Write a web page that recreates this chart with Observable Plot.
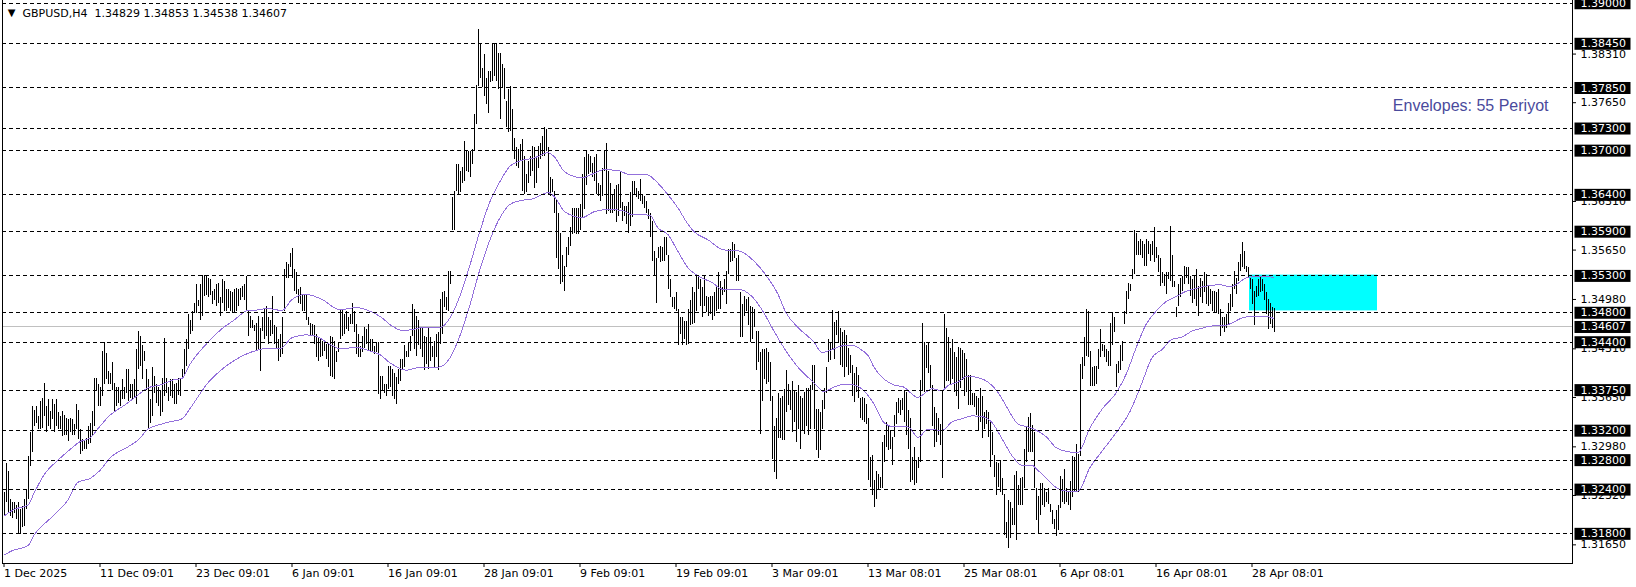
<!DOCTYPE html>
<html>
<head>
<meta charset="utf-8">
<script src="https://cdn.jsdelivr.net/npm/d3@7"></script>
<script src="https://cdn.jsdelivr.net/npm/@observablehq/plot@0.6"></script>
<style>
  html, body { margin: 0; padding: 0; background: #ffffff; }
  svg { display: block; }
</style>
</head>
<body>
<script>
// ---- Data (GBPUSD, H4) ----
const symbol = "GBPUSD,H4";
const lastOHLC = [1.34829, 1.34853, 1.34538, 1.34607];
const bidPrice = 1.34607;

// bar highs, one per H4 bar (bar index 0 = 1 Dec 2025)
const highs = [
1.3236,1.3276,1.3265,1.3226,1.3222,1.3222,1.3219,1.3222,1.3213,1.3217,
1.3226,1.3240,1.3285,1.3317,1.3353,1.3348,1.3353,1.3339,1.3359,1.3364,
1.3384,1.3353,1.3362,1.3346,1.3362,1.3355,1.3362,1.3344,1.3339,1.3346,
1.3341,1.3337,1.3335,1.3337,1.3335,1.3328,1.3355,1.3348,1.3321,1.3308,
1.3305,1.3310,1.3326,1.3330,1.3346,1.3391,1.3391,1.3382,1.3378,1.3427,
1.3439,1.3425,1.3400,1.3398,1.3412,1.3384,1.3378,1.3378,1.3375,1.3389,
1.3378,1.3403,1.3403,1.3382,1.3382,1.3389,1.3430,1.3454,1.3448,1.3436,
1.3427,1.3403,1.3389,1.3362,1.3405,1.3394,1.3382,1.3378,1.3375,1.3391,
1.3445,1.3391,1.3378,1.3389,1.3389,1.3382,1.3384,1.3391,1.3391,1.3403,
1.3430,1.3443,1.3477,1.3470,1.3482,1.3493,1.3518,1.3497,1.3518,1.3531,
1.3531,1.3529,1.3527,1.3525,1.3509,1.3511,1.3518,1.3520,1.3500,1.3525,
1.3522,1.3511,1.3511,1.3509,1.3507,1.3511,1.3513,1.3511,1.3513,1.3516,
1.3518,1.3529,1.3482,1.3475,1.3470,1.3463,1.3466,1.3475,1.3459,1.3473,
1.3484,1.3489,1.3473,1.3469,1.3502,1.3462,1.3460,1.3444,1.3450,1.3473,
1.3539,1.3548,1.3545,1.3561,1.3567,1.3539,1.3534,1.3512,1.3514,1.3505,
1.3505,1.3505,1.3473,1.3466,1.3464,1.3462,1.3450,1.3446,1.3444,1.3441,
1.3441,1.3437,1.3437,1.3448,1.3446,1.3441,1.3428,1.3439,1.3484,1.3484,
1.3478,1.3482,1.3473,1.3478,1.3493,1.3482,1.3464,1.3450,1.3434,1.3448,
1.3460,1.3457,1.3464,1.3444,1.3444,1.3434,1.3439,1.3439,1.3394,1.3394,
1.3383,1.3383,1.3407,1.3407,1.3403,1.3398,1.3392,1.3403,1.3417,1.3417,
1.3435,1.3428,1.3439,1.3448,1.3491,1.3484,1.3475,1.3469,1.3460,1.3460,
1.3448,1.3446,1.3460,1.3446,1.3434,1.3441,1.3450,1.3453,1.3498,1.3507,
1.3509,1.3501,1.3536,1.3536,1.3636,1.3645,1.3681,1.3681,1.3672,1.3677,
1.3713,1.3699,1.3699,1.3699,1.3701,1.3749,1.3789,1.3864,1.3846,1.3812,
1.3830,1.3798,1.3807,1.3807,1.3844,1.3846,1.3846,1.3832,1.3832,1.3817,
1.3812,1.3767,1.3783,1.3787,1.3756,1.3717,1.3704,1.3701,1.3708,1.3715,
1.3692,1.3667,1.3685,1.3692,1.3706,1.3704,1.3692,1.3706,1.3710,1.3719,
1.3731,1.3728,1.3704,1.3663,1.3661,1.3645,1.3634,1.3615,1.3588,1.3557,
1.3543,1.3568,1.3582,1.3595,1.3622,1.3622,1.3622,1.3622,1.3627,1.3667,
1.3690,1.3699,1.3695,1.3692,1.3683,1.3690,1.3695,1.3656,1.3652,1.3676,
1.3699,1.3710,1.3672,1.3656,1.3640,1.3647,1.3652,1.3654,1.3670,1.3629,
1.3624,1.3624,1.3629,1.3643,1.3658,1.3658,1.3649,1.3645,1.3661,1.3640,
1.3638,1.3631,1.3620,1.3615,1.3604,1.3563,1.3554,1.3568,1.3570,1.3568,
1.3582,1.3582,1.3557,1.3525,1.3500,1.3500,1.3507,1.3484,1.3473,1.3473,
1.3468,1.3468,1.3484,1.3496,1.3514,1.3507,1.3532,1.3530,1.3525,1.3514,
1.3530,1.3502,1.3500,1.3502,1.3502,1.3507,1.3516,1.3534,1.3523,1.3514,
1.3525,1.3536,1.3566,1.3566,1.3575,1.3573,1.3554,1.3557,1.3507,1.3491,
1.3502,1.3498,1.3500,1.3489,1.3487,1.3484,1.3455,1.3455,1.3426,1.3430,
1.3430,1.3432,1.3426,1.3412,1.3367,1.3326,1.3337,1.3371,1.3364,1.3367,
1.3376,1.3401,1.3383,1.3374,1.3386,1.3374,1.3372,1.3381,1.3367,1.3363,
1.3372,1.3377,1.3377,1.3381,1.3408,1.3408,1.3349,1.3349,1.3345,1.3361,
1.3377,1.3406,1.3444,1.3438,1.3483,1.3467,1.3469,1.3481,1.3458,1.3453,
1.3456,1.3449,1.3431,1.3422,1.3408,1.3397,1.3406,1.3395,1.3363,1.3365,
1.3363,1.3356,1.3336,1.3284,1.3286,1.3252,1.3264,1.3261,1.3257,1.3304,
1.3313,1.3331,1.3327,1.3320,1.3311,1.3340,1.3358,1.3363,1.3361,1.3363,
1.3374,1.3372,1.3347,1.3336,1.3284,1.3297,1.3279,1.3284,1.3388,1.3465,
1.3440,1.3435,1.3438,1.3408,1.3381,1.3352,1.3343,1.3336,1.3329,1.3374,
1.3478,1.3458,1.3447,1.3431,1.3444,1.3426,1.3419,1.3433,1.3431,1.3429,
1.3424,1.3417,1.3395,1.3395,1.3370,1.3370,1.3367,1.3363,1.3377,1.3367,
1.3345,1.3347,1.3345,1.3331,1.3318,1.3286,1.3277,1.3275,1.3279,1.3255,
1.3234,1.3196,1.3225,1.3223,1.3214,1.3259,1.3264,1.3245,1.3255,1.3257,
1.3295,1.3325,1.3338,1.3343,1.3327,1.3318,1.3241,1.3230,1.3248,1.3248,
1.3241,1.3236,1.3242,1.3220,1.3211,1.3200,1.3211,1.3218,1.3258,1.3254,
1.3267,1.3242,1.3236,1.3251,1.3285,1.3283,1.3301,1.3288,1.3410,1.3419,
1.3446,1.3484,1.3482,1.3428,1.3405,1.3407,1.3407,1.3430,1.3457,1.3437,
1.3435,1.3430,1.3428,1.3466,1.3480,1.3473,1.3410,1.3414,1.3435,1.3441,
1.3482,1.3509,1.3520,1.3518,1.3539,1.3591,1.3588,1.3577,1.3579,1.3577,
1.3572,1.3579,1.3577,1.3572,1.3577,1.3595,1.3568,1.3557,1.3554,1.3534,
1.3532,1.3534,1.3534,1.3597,1.3557,1.3523,1.3487,1.3518,1.3527,1.3529,
1.3543,1.3541,1.3541,1.3529,1.3525,1.3529,1.3539,1.3516,1.3527,1.3523,
1.3534,1.3532,1.3516,1.3511,1.3509,1.3509,1.3507,1.3511,1.3484,1.3473,
1.3473,1.3477,1.3493,1.3505,1.3518,1.3536,1.3527,1.3548,1.3559,1.3575,
1.3563,1.3543,1.3541,1.3527,1.3525,1.3509,1.3516,1.3525,1.3529,1.3525,
1.3518,1.3507,1.3498,1.3493,1.3487,1.34853
];

// bar lows
const lows = [
1.3204,1.3222,1.3208,1.3204,1.3201,1.3208,1.3199,1.3181,1.3179,1.3188,
1.3190,1.3213,1.3226,1.3271,1.3290,1.3326,1.3330,1.3321,1.3321,1.3323,
1.3339,1.3317,1.3326,1.3321,1.3335,1.3317,1.3326,1.3321,1.3321,1.3312,
1.3314,1.3314,1.3305,1.3317,1.3314,1.3314,1.3321,1.3308,1.3287,1.3292,
1.3294,1.3294,1.3301,1.3303,1.3312,1.3326,1.3375,1.3353,1.3353,1.3366,
1.3382,1.3389,1.3382,1.3382,1.3375,1.3346,1.3353,1.3357,1.3353,1.3362,
1.3362,1.3371,1.3359,1.3364,1.3362,1.3364,1.3355,1.3403,1.3407,1.3389,
1.3414,1.3375,1.3321,1.3330,1.3339,1.3371,1.3357,1.3353,1.3339,1.3344,
1.3366,1.3371,1.3359,1.3366,1.3364,1.3355,1.3355,1.3368,1.3366,1.3389,
1.3394,1.3407,1.3430,1.3450,1.3454,1.3479,1.3479,1.3488,1.3470,1.3475,
1.3502,1.3504,1.3500,1.3504,1.3491,1.3497,1.3488,1.3493,1.3475,1.3493,
1.3482,1.3482,1.3486,1.3482,1.3479,1.3479,1.3482,1.3488,1.3497,1.3500,
1.3497,1.3482,1.3448,1.3459,1.3459,1.3454,1.3427,1.3430,1.3400,1.3455,
1.3444,1.3448,1.3437,1.3448,1.3450,1.3437,1.3430,1.3414,1.3419,1.3423,
1.3482,1.3527,1.3527,1.3541,1.3527,1.3509,1.3505,1.3493,1.3491,1.3482,
1.3482,1.3469,1.3462,1.3448,1.3448,1.3437,1.3419,1.3414,1.3419,1.3421,
1.3428,1.3417,1.3405,1.3394,1.3392,1.3389,1.3412,1.3426,1.3444,1.3448,
1.3450,1.3457,1.3455,1.3464,1.3464,1.3453,1.3423,1.3419,1.3419,1.3426,
1.3432,1.3437,1.3428,1.3426,1.3426,1.3423,1.3426,1.3369,1.3362,1.3374,
1.3371,1.3367,1.3376,1.3378,1.3367,1.3362,1.3355,1.3383,1.3387,1.3401,
1.3405,1.3419,1.3419,1.3428,1.3448,1.3430,1.3421,1.3435,1.3430,1.3419,
1.3401,1.3410,1.3403,1.3414,1.3419,1.3405,1.3419,1.3401,1.3437,1.3450,
1.3487,1.3483,1.3482,1.3518,1.3591,1.3591,1.3645,1.3641,1.3643,1.3656,
1.3658,1.3672,1.3670,1.3663,1.3681,1.3699,1.3735,1.3787,1.3798,1.3785,
1.3774,1.3762,1.3751,1.3792,1.3794,1.3801,1.3794,1.3783,1.3742,1.3785,
1.3769,1.3731,1.3724,1.3726,1.3699,1.3688,1.3679,1.3676,1.3685,1.3645,
1.3640,1.3643,1.3656,1.3665,1.3672,1.3649,1.3656,1.3676,1.3688,1.3692,
1.3692,1.3699,1.3640,1.3638,1.3643,1.3615,1.3554,1.3539,1.3518,1.3521,
1.3509,1.3541,1.3557,1.3570,1.3586,1.3588,1.3586,1.3586,1.3591,1.3609,
1.3620,1.3652,1.3667,1.3670,1.3663,1.3658,1.3640,1.3638,1.3631,1.3638,
1.3672,1.3613,1.3618,1.3615,1.3615,1.3618,1.3602,1.3611,1.3622,1.3604,
1.3611,1.3600,1.3588,1.3597,1.3609,1.3640,1.3636,1.3634,1.3631,1.3627,
1.3622,1.3615,1.3606,1.3582,1.3550,1.3530,1.3493,1.3554,1.3548,1.3550,
1.3550,1.3557,1.3511,1.3500,1.3487,1.3484,1.3482,1.3435,1.3450,1.3435,
1.3444,1.3435,1.3437,1.3462,1.3464,1.3466,1.3482,1.3511,1.3489,1.3473,
1.3489,1.3480,1.3475,1.3478,1.3469,1.3475,1.3482,1.3484,1.3484,1.3503,
1.3507,1.3491,1.3532,1.3548,1.3550,1.3554,1.3523,1.3523,1.3446,1.3446,
1.3475,1.3482,1.3462,1.3439,1.3444,1.3460,1.3401,1.3412,1.3315,1.3360,
1.3389,1.3383,1.3385,1.3360,1.3281,1.3263,1.3254,1.3310,1.3310,1.3306,
1.3306,1.3345,1.3354,1.3347,1.3318,1.3331,1.3304,1.3322,1.3295,1.3320,
1.3315,1.3325,1.3313,1.3322,1.3374,1.3322,1.3293,1.3282,1.3293,1.3322,
1.3349,1.3370,1.3413,1.3415,1.3429,1.3417,1.3449,1.3440,1.3408,1.3406,
1.3392,1.3406,1.3395,1.3397,1.3367,1.3358,1.3372,1.3363,1.3336,1.3334,
1.3331,1.3329,1.3252,1.3243,1.3232,1.3216,1.3227,1.3239,1.3241,1.3241,
1.3277,1.3297,1.3293,1.3295,1.3273,1.3311,1.3329,1.3343,1.3340,1.3347,
1.3331,1.3313,1.3295,1.3250,1.3252,1.3245,1.3248,1.3268,1.3277,1.3374,
1.3372,1.3404,1.3397,1.3377,1.3325,1.3297,1.3304,1.3313,1.3300,1.3255,
1.3377,1.3386,1.3386,1.3383,1.3390,1.3372,1.3367,1.3349,1.3377,1.3388,
1.3367,1.3372,1.3354,1.3354,1.3354,1.3352,1.3340,1.3320,1.3331,1.3309,
1.3322,1.3329,1.3311,1.3270,1.3286,1.3257,1.3232,1.3243,1.3236,1.3232,
1.3178,1.3173,1.3160,1.3173,1.3191,1.3191,1.3171,1.3218,1.3218,1.3218,
1.3241,1.3277,1.3291,1.3291,1.3291,1.3241,1.3198,1.3180,1.3205,1.3218,
1.3216,1.3222,1.3220,1.3209,1.3193,1.3186,1.3177,1.3184,1.3215,1.3222,
1.3220,1.3222,1.3218,1.3211,1.3229,1.3236,1.3238,1.3236,1.3285,1.3389,
1.3407,1.3421,1.3419,1.3380,1.3380,1.3380,1.3383,1.3403,1.3419,1.3428,
1.3419,1.3412,1.3407,1.3407,1.3435,1.3453,1.3378,1.3398,1.3401,1.3414,
1.3464,1.3477,1.3498,1.3509,1.3525,1.3532,1.3557,1.3557,1.3557,1.3554,
1.3543,1.3543,1.3559,1.3550,1.3557,1.3548,1.3554,1.3534,1.3516,1.3520,
1.3516,1.3505,1.3525,1.3523,1.3514,1.3514,1.3473,1.3489,1.3500,1.3509,
1.3518,1.3527,1.3518,1.3502,1.3493,1.3498,1.3489,1.3475,1.3500,1.3493,
1.3507,1.3491,1.3489,1.3491,1.3482,1.3480,1.3480,1.3477,1.3448,1.3459,
1.3453,1.3459,1.3464,1.3482,1.3487,1.3511,1.3505,1.3523,1.3536,1.3541,
1.3539,1.3534,1.3527,1.3511,1.3491,1.3462,1.3500,1.3502,1.3507,1.3509,
1.3496,1.3477,1.3457,1.3464,1.3459,1.34538
];

// Envelopes (55) upper / lower band, [bar index, price]
const envUpper = [
[0,1.3204],[5,1.3213],[12,1.3219],[15,1.3235],[20,1.3260],[27,1.3280],[32,1.3292],[38,1.3305],
[43,1.3310],[48,1.3326],[53,1.3341],[60,1.3354],[65,1.3364],[72,1.3378],[78,1.3382],[85,1.3389],
[89,1.3391],[93,1.3410],[102,1.3440],[108,1.3456],[115,1.3470],[122,1.3483],[128,1.3484],[131,1.3486],
[136,1.3484],[139,1.3483],[144,1.3498],[151,1.3505],[159,1.3498],[168,1.3484],[176,1.3487],[183,1.3482],
[188,1.3475],[194,1.3462],[199,1.3456],[204,1.3457],[209,1.3460],[218,1.3460],[223,1.3473],[228,1.3503],
[233,1.3545],[238,1.3591],[243,1.3631],[248,1.3658],[253,1.3679],[258,1.3686],[265,1.3690],[272,1.3697],
[275,1.3692],[280,1.3672],[285,1.3665],[289,1.3663],[294,1.3668],[300,1.3674],[307,1.3673],[312,1.3668],
[317,1.3667],[322,1.3667],[325,1.3661],[332,1.3640],[337,1.3622],[342,1.3600],[345,1.3590],[352,1.3579],
[359,1.3566],[364,1.3564],[367,1.3564],[375,1.3550],[382,1.3527],[387,1.3505],[391,1.3480],[397,1.3460],
[405,1.3440],[409,1.3426],[414,1.3430],[419,1.3435],[424,1.3436],[429,1.3429],[432,1.3422],[435,1.3406],
[440,1.3390],[445,1.3382],[450,1.3379],[453,1.3372],[457,1.3365],[460,1.3370],[464,1.3377],[469,1.3374],
[472,1.3381],[477,1.3386],[482,1.3394],[487,1.3392],[492,1.3386],[497,1.3372],[502,1.3349],[507,1.3329],
[512,1.3325],[515,1.3322],[521,1.3312],[526,1.3297],[531,1.3292],[537,1.3290],[543,1.3324],[549,1.3349],
[556,1.3371],[561,1.3396],[566,1.3432],[571,1.3464],[576,1.3482],[581,1.3495],[586,1.3502],[591,1.3509],
[596,1.3513],[601,1.3516],[608,1.3518],[613,1.3515],[616,1.3518],[621,1.3527],[626,1.3529],[631,1.3529],
[635,1.3528]
];
const envLower = [
[0,1.3151],[4,1.3157],[12,1.3164],[15,1.3178],[24,1.3203],[32,1.3226],[37,1.3250],[43,1.3255],
[48,1.3266],[53,1.3283],[62,1.3298],[67,1.3307],[72,1.3322],[79,1.3329],[83,1.3332],[89,1.3336],
[93,1.3350],[102,1.3385],[108,1.3401],[115,1.3415],[122,1.3425],[128,1.3430],[131,1.3432],[138,1.3431],
[144,1.3446],[151,1.3450],[156,1.3448],[163,1.3437],[168,1.3431],[176,1.3433],[183,1.3428],[188,1.3423],
[193,1.3412],[201,1.3402],[206,1.3405],[211,1.3406],[217,1.3406],[223,1.3419],[228,1.3449],[233,1.3491],
[238,1.3539],[243,1.3579],[248,1.3609],[253,1.3627],[258,1.3632],[265,1.3635],[272,1.3643],[275,1.3638],
[280,1.3618],[285,1.3611],[289,1.3609],[295,1.3617],[302,1.3620],[309,1.3619],[314,1.3613],[319,1.3613],
[323,1.3612],[327,1.3595],[332,1.3586],[337,1.3563],[342,1.3541],[347,1.3530],[354,1.3521],[359,1.3512],
[364,1.3511],[367,1.3512],[374,1.3502],[379,1.3484],[385,1.3455],[391,1.3428],[397,1.3406],[405,1.3385],
[410,1.3373],[415,1.3379],[420,1.3383],[425,1.3382],[430,1.3374],[435,1.3356],[440,1.3331],[445,1.3325],
[452,1.3325],[457,1.3311],[462,1.3322],[469,1.3320],[474,1.3332],[479,1.3336],[484,1.3340],[489,1.3339],
[494,1.3331],[499,1.3309],[504,1.3286],[509,1.3273],[514,1.3273],[517,1.3266],[521,1.3256],[526,1.3243],
[531,1.3238],[537,1.3238],[543,1.3270],[549,1.3292],[556,1.3317],[563,1.3346],[569,1.3385],[574,1.3419],
[579,1.3430],[584,1.3444],[589,1.3447],[594,1.3455],[599,1.3459],[604,1.3462],[609,1.3462],[614,1.3466],
[619,1.3473],[624,1.3475],[629,1.3475],[633,1.3474],[635,1.3472]
];

// horizontal level lines (dashed) and axis ticks
const levels = [1.3900,1.3845,1.3785,1.3730,1.3700,1.3640,1.3590,1.3530,1.3480,1.3440,1.3375,1.3320,1.3280,1.3240,1.3180];
const priceTicks = [1.3831,1.3765,1.3631,1.3565,1.3498,1.3431,1.3365,1.3298,1.3232,1.3165];
const timeTickBars = [0,48,96,144,192,240,288,336,384,432,480,528,576,624];
const timeLabels = ["1 Dec 2025","11 Dec 09:01","23 Dec 09:01","6 Jan 09:01","16 Jan 09:01","28 Jan 09:01","9 Feb 09:01","19 Feb 09:01","3 Mar 09:01","13 Mar 08:01","25 Mar 08:01","6 Apr 08:01","16 Apr 08:01","28 Apr 08:01"];

// cyan rectangle zone (bar index span, price span)
const zones = [{from: 622.75, to: 686.75, top: 1.3531, bottom: 1.34825}];
const indicatorLabel = "Envelopes: 55 Periyot";

// ---- build ----
const bars = highs.map((h, i) => ({i, high: h, low: lows[i]}));
const fmt5 = d3.format(".5f");
const header = symbol + "\u00a0 " + lastOHLC.map(fmt5).join(" ");

const chart = Plot.plot({
  width: 1636,
  height: 587,
  marginLeft: 2,
  marginRight: 64,
  marginTop: 0,
  marginBottom: 24,
  style: {fontFamily: "DejaVu Sans", fontSize: "11px", color: "#000", background: "#fff", overflow: "hidden"},
  x: {type: "linear", domain: [-0.75, 784.25]},
  y: {type: "linear", domain: [1.31397, 1.39037]},
  marks: [
    Plot.rect(zones, {x1: "from", x2: "to", y1: "bottom", y2: "top", fill: "#00ffff"}),
    Plot.ruleY([bidPrice], {stroke: "#c0c0c0", strokeWidth: 1, shapeRendering: "crispEdges"}),
    Plot.ruleX(bars, {x: "i", y1: "low", y2: "high", stroke: "#000", strokeWidth: 1, shapeRendering: "crispEdges"}),
    Plot.line(envUpper, {x: d => d[0], y: d => d[1], stroke: "#9370db", strokeWidth: 1, curve: "monotone-x", shapeRendering: "crispEdges"}),
    Plot.line(envLower, {x: d => d[0], y: d => d[1], stroke: "#9370db", strokeWidth: 1, curve: "monotone-x", shapeRendering: "crispEdges"}),
    Plot.ruleY(levels, {stroke: "#000", strokeWidth: 1, strokeDasharray: "4,3", shapeRendering: "crispEdges"}),
    Plot.axisX({ticks: timeTickBars, tickFormat: d => timeLabels[timeTickBars.indexOf(d)], textAnchor: "start",
      tickSize: 4, tickPadding: 2, label: null, fontSize: 11}),
    Plot.axisY({anchor: "right", ticks: priceTicks, tickFormat: fmt5, tickSize: 3, tickPadding: 5,
      textAnchor: "start", label: null, fontSize: 11}),
    Plot.frame({anchor: "left", stroke: "#000", shapeRendering: "crispEdges"}),
    Plot.frame({anchor: "right", stroke: "#000", shapeRendering: "crispEdges"}),
    Plot.frame({anchor: "bottom", stroke: "#000", shapeRendering: "crispEdges"}),
    Plot.text(levels.concat([bidPrice]), {y: d => d, text: d => fmt5(d), frameAnchor: "right", dx: 8,
      textAnchor: "start", lineAnchor: "middle", fill: "#fff", fontSize: 11, className: "lvl-label"}),
    Plot.text(["\u25BC"], {frameAnchor: "top-left", dx: 9, dy: 12, textAnchor: "middle", lineAnchor: "middle", fontSize: 10, fill: "#000"}),
    Plot.text([header], {frameAnchor: "top-left", dx: 20, dy: 12.5, textAnchor: "start", lineAnchor: "middle", fontSize: 11, fill: "#000"}),
    Plot.text([indicatorLabel], {frameAnchor: "top-right", dx: -24, dy: 105, textAnchor: "end", lineAnchor: "middle",
      fontSize: 16, fontFamily: "Liberation Sans", fill: "#4a4a9c"})
  ]
});

document.body.appendChild(chart);

// black boxes behind the level price labels on the right axis
d3.select(chart).selectAll("g.lvl-label text").each(function() {
  const bb = this.getBBox();
  const h = 12;
  d3.select(this.parentNode).insert("rect", () => this)
    .attr("x", bb.x - 6)
    .attr("y", bb.y + (bb.height - h) / 2)
    .attr("width", 56)
    .attr("height", h)
    .attr("fill", "#000")
    .attr("transform", this.getAttribute("transform"));
});
</script>
</body>
</html>
